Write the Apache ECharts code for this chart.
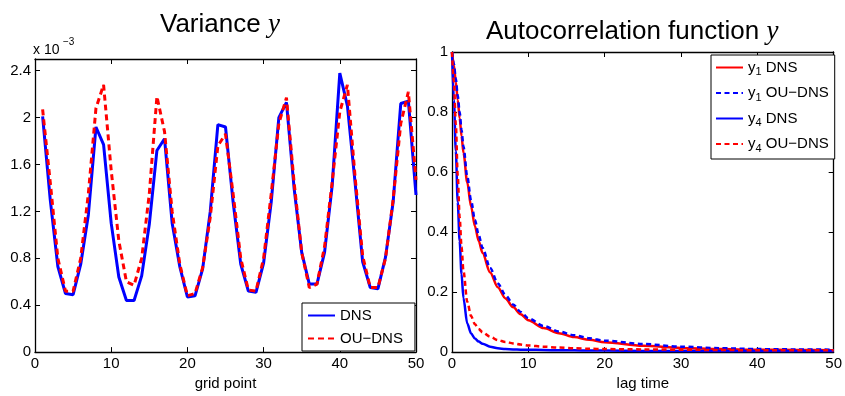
<!DOCTYPE html>
<html>
<head>
<meta charset="utf-8">
<script src="https://cdn.jsdelivr.net/npm/echarts@6/dist/echarts.min.js"></script>
<style>
html,body{margin:0;padding:0;background:#fff;}
#c{width:845px;height:396px;}
</style>
</head>
<body>
<div id="c"></div>
<script>
// ---- Data: Variance y (values in units of 1e-3) ----
const gridPoints = [1,2,3,4,5,6,7,8,9,10,11,12,13,14,15,16,17,18,19,20,21,22,23,24,25,26,27,28,29,30,31,32,33,34,35,36,37,38,39,40,41,42,43,44,45,46,47,48,49,50];
const varDNS = [2.01,1.30,0.73,0.50,0.49,0.75,1.17,1.92,1.77,1.10,0.64,0.44,0.44,0.65,1.09,1.72,1.82,1.10,0.73,0.47,0.48,0.71,1.20,1.94,1.92,1.28,0.75,0.52,0.51,0.76,1.28,2.00,2.13,1.40,0.85,0.58,0.58,0.85,1.42,2.38,2.10,1.45,0.77,0.55,0.54,0.81,1.28,2.12,2.14,1.34];
const varOU  = [2.07,1.45,0.80,0.52,0.52,0.80,1.35,2.08,2.28,1.55,0.95,0.60,0.57,0.80,1.35,2.18,1.88,1.20,0.75,0.48,0.50,0.72,1.15,1.76,1.86,1.35,0.80,0.53,0.52,0.80,1.35,1.95,2.17,1.45,0.85,0.55,0.58,0.90,1.45,2.05,2.28,1.50,0.82,0.55,0.55,0.80,1.30,1.95,2.22,1.47];
const varYTicks = [0,0.4,0.8,1.2,1.6,2,2.4];
const gridXTicks = [0,10,20,30,40,50];

// ---- Data: Autocorrelation function y ----
const lags     = [0,0.25,0.5,0.75,1,1.25,1.5,2,2.5,3,3.5,4,5,6,7,8,9,10,12,14,16,18,20,25,30,35,40,45,50];
const acfY1DNS = [1,0.955,0.90,0.84,0.78,0.72,0.665,0.565,0.485,0.42,0.37,0.33,0.265,0.216,0.179,0.150,0.126,0.106,0.080,0.063,0.050,0.041,0.033,0.021,0.014,0.010,0.008,0.007,0.006];
const acfY1OU  = [1,0.96,0.91,0.855,0.80,0.74,0.685,0.585,0.505,0.44,0.39,0.347,0.280,0.229,0.190,0.159,0.134,0.113,0.087,0.069,0.056,0.046,0.038,0.027,0.018,0.013,0.010,0.009,0.008];
const acfY4DNS = [1,0.84,0.67,0.50,0.37,0.26,0.18,0.095,0.062,0.045,0.035,0.028,0.018,0.013,0.010,0.009,0.008,0.008,0.007,0.006,0.006,0.005,0.005,0.004,0.004,0.004,0.004,0.004,0.004];
const acfY4OU  = [1,0.90,0.76,0.59,0.45,0.35,0.27,0.168,0.12,0.093,0.077,0.066,0.051,0.040,0.034,0.029,0.025,0.022,0.018,0.015,0.013,0.011,0.010,0.009,0.008,0.007,0.006,0.006,0.006];
const acfYTicks = [0,0.2,0.4,0.6,0.8,1];
const lagXTicks = [0,10,20,30,40,50];

const pairs = (xs, ys) => xs.map((x, i) => [x, ys[i]]);
const FONT = 'Liberation Sans';

function axisCommon(extra) {
  return Object.assign({
    type: 'value',
    splitLine: {show: false},
    axisLine: {show: true, onZero: false, lineStyle: {color: '#000', width: 1.3}},
    axisTick: {show: true, inside: true, length: 5, lineStyle: {color: '#000', width: 1}},
    axisLabel: {color: '#000', fontFamily: FONT, fontSize: 15, margin: 4}
  }, extra);
}
function hiddenLabel(o) { o.axisLabel = {show: false}; return o; }

const titleRich = {
  a: {fontFamily: FONT, fontSize: 26, fontWeight: 'normal', color: '#000'},
  b: {fontFamily: 'Liberation Serif', fontStyle: 'italic', fontWeight: 'normal', fontSize: 27, color: '#000'}
};

const chart = echarts.init(document.getElementById('c'), null, {renderer: 'canvas'});
chart.setOption({
  animation: false,
  backgroundColor: '#fff',
  title: [
    {text: '{a|Variance }{b|y}', left: 155, top: 6, textStyle: {fontWeight: 'normal', rich: titleRich}},
    {text: '{a|Autocorrelation function }{b|y}', left: 481, top: 13, textStyle: {fontWeight: 'normal', rich: titleRich}}
  ],
  graphic: [
    {type: 'text', left: 33, top: 43, style: {text: 'x 10', font: '14px "Liberation Sans"', fill: '#000'}},
    {type: 'text', left: 63, top: 37, style: {text: '\u22123', font: '10px "Liberation Sans"', fill: '#000'}}
  ],
  grid: [
    {left: 35, top: 59, width: 381, height: 303, show: false},
    {left: 452, top: 52, width: 383, height: 301, show: false}
  ],
  xAxis: [
    axisCommon({gridIndex: 0, min: gridXTicks[0], max: gridXTicks[gridXTicks.length-1], interval: 10, position: 'bottom',
      name: 'grid point', nameLocation: 'middle', nameGap: 19, nameTextStyle: {fontFamily: FONT, fontSize: 15, color: '#000'}}),
    axisCommon({gridIndex: 1, min: lagXTicks[0], max: lagXTicks[lagXTicks.length-1], interval: 10, position: 'bottom',
      name: 'lag time', nameLocation: 'middle', nameGap: 21, nameTextStyle: {fontFamily: FONT, fontSize: 15, color: '#000'}}),
    hiddenLabel(axisCommon({gridIndex: 0, min: 0, max: 50, interval: 10, position: 'top'})),
    hiddenLabel(axisCommon({gridIndex: 1, min: 0, max: 50, interval: 10, position: 'top'}))
  ],
  yAxis: [
    axisCommon({gridIndex: 0, min: 0, max: 2.5, interval: 0.4, position: 'left',
      axisLabel: {color: '#000', fontFamily: FONT, fontSize: 15, margin: 4, showMaxLabel: false,
        formatter: v => varYTicks.some(t => Math.abs(t - v) < 1e-9) ? String(+v.toFixed(1)) : ''}}),
    axisCommon({gridIndex: 1, min: acfYTicks[0], max: acfYTicks[acfYTicks.length-1], interval: 0.2, position: 'left'}),
    hiddenLabel(axisCommon({gridIndex: 0, min: 0, max: 2.5, interval: 0.4, position: 'right'})),
    hiddenLabel(axisCommon({gridIndex: 1, min: 0, max: 1, interval: 0.2, position: 'right'}))
  ],
  legend: [
    {
      data: ['DNS', 'OU\u2212DNS'],
      orient: 'vertical', left: 302, top: 303,
      padding: [5, 12, 5, 5], itemGap: 8, itemWidth: 27, itemHeight: 14,
      borderColor: '#000', borderWidth: 1, backgroundColor: '#fff',
      itemStyle: {color: 'rgba(0,0,0,0)', borderColor: 'rgba(0,0,0,0)', borderWidth: 0},
      textStyle: {fontFamily: FONT, fontSize: 15, color: '#000'}
    },
    {
      data: ['y1 DNS', 'y1 OU\u2212DNS', 'y4 DNS', 'y4 OU\u2212DNS'],
      orient: 'vertical', left: 711, top: 55,
      padding: [5, 6, 5, 4], itemGap: 8, itemWidth: 27, itemHeight: 14,
      borderColor: '#000', borderWidth: 1, backgroundColor: '#fff',
      itemStyle: {color: 'rgba(0,0,0,0)', borderColor: 'rgba(0,0,0,0)', borderWidth: 0},
      formatter: name => {
        const sub = name.charAt(1);
        const rest = name.slice(2);
        return '{t|y}{s|' + sub + '}{t|' + rest + '}';
      },
      textStyle: {
        fontFamily: FONT, fontSize: 15, color: '#000',
        rich: {
          t: {fontFamily: FONT, fontSize: 15, color: '#000', lineHeight: 20},
          s: {fontFamily: FONT, fontSize: 11, color: '#000', lineHeight: 11, verticalAlign: 'bottom'}
        }
      }
    }
  ],
  series: [
    {name: 'DNS', type: 'line', xAxisIndex: 0, yAxisIndex: 0, data: pairs(gridPoints, varDNS),
     symbol: 'none', lineStyle: {color: '#0000ff', width: 3}, itemStyle: {color: '#0000ff'}, z: 2},
    {name: 'OU\u2212DNS', type: 'line', xAxisIndex: 0, yAxisIndex: 0, data: pairs(gridPoints, varOU),
     symbol: 'none', lineStyle: {color: '#ff0000', width: 3, type: [6, 4]}, itemStyle: {color: '#ff0000'}, z: 3},

    {name: 'y1 DNS', type: 'line', xAxisIndex: 1, yAxisIndex: 1, data: pairs(lags, acfY1DNS),
     symbol: 'none', smooth: 0.3, smoothMonotone: 'x', lineStyle: {color: '#ff0000', width: 2.5}, itemStyle: {color: '#ff0000'}, z: 2},
    {name: 'y1 OU\u2212DNS', type: 'line', xAxisIndex: 1, yAxisIndex: 1, data: pairs(lags, acfY1OU),
     symbol: 'none', smooth: 0.3, smoothMonotone: 'x', lineStyle: {color: '#0000ff', width: 2.5, type: [5, 3.5]}, itemStyle: {color: '#0000ff'}, z: 3},
    {name: 'y4 DNS', type: 'line', xAxisIndex: 1, yAxisIndex: 1, data: pairs(lags, acfY4DNS),
     symbol: 'none', smooth: 0.3, smoothMonotone: 'x', lineStyle: {color: '#0000ff', width: 2.5}, itemStyle: {color: '#0000ff'}, z: 4},
    {name: 'y4 OU\u2212DNS', type: 'line', xAxisIndex: 1, yAxisIndex: 1, data: pairs(lags, acfY4OU),
     symbol: 'none', smooth: 0.3, smoothMonotone: 'x', lineStyle: {color: '#ff0000', width: 2.5, type: [5, 3.5]}, itemStyle: {color: '#ff0000'}, z: 5}
  ]
});
</script>
</body>
</html>
